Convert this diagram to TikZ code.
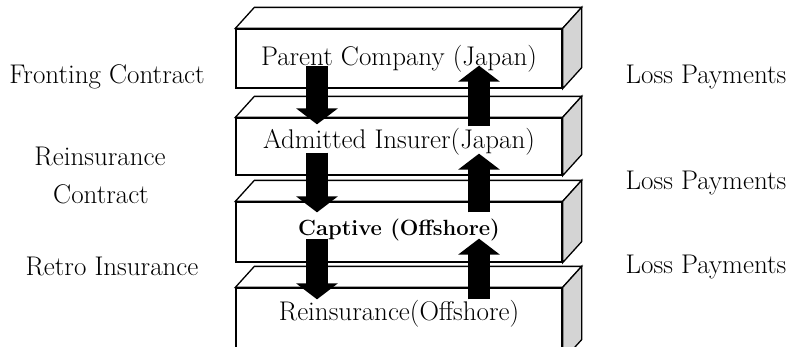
\documentclass[tikz,border=0pt]{standalone}
\usetikzlibrary{calc,arrows.meta}
\begin{document}
\begin{tikzpicture}[x=1pt,y=-1pt,
  front/.style={draw,line width=1.3pt,fill=white,minimum width=326pt,inner sep=0pt},
  topface/.style={draw,line width=1.3pt,fill=white,line join=miter},
  sideface/.style={draw,line width=1.3pt,fill=black!17,line join=miter},
  txt/.style={anchor=base,inner sep=0pt,font=\fontsize{27}{32}\selectfont},
  flow/.style={line width=22pt,-{Triangle[width=41pt 0 0,length=16pt 0 0]}}]
\useasboundingbox (0,0) rectangle (790,346);
\clip (0,0) rectangle (790,346);
% boxes
\newcommand\cube[1]{%
  \draw[topface] (#1.north west) -- ++(19,-21) -- ($(#1.north east)+(19,-21)$) -- (#1.north east) -- cycle;
  \draw[sideface] (#1.north east) -- ++(19,-21) -- ($(#1.south east)+(19,-21)$) -- (#1.south east) -- cycle;}
\node[front,minimum height=59pt] (b1) at (399,58.5) {};
\cube{b1}
\node[front,minimum height=57pt] (b2) at (399,146.5) {};
\cube{b2}
\node[front,minimum height=60pt] (b3) at (399,232) {};
\cube{b3}
\node[front,minimum height=72pt] (b4) at (399,324) {};
\cube{b4}
% box texts
\node[txt] (t1) at (399,65) {Parent Company (Japan)};
\node[txt] (t2) at (399,148) {Admitted Insurer(Japan)};
\node[txt,font=\fontsize{22}{26}\selectfont\bfseries] (t3) at (399,235) {Captive (Offshore)};
\node[txt] (t4) at (399,320) {Reinsurance(Offshore)};
% side labels
\node[txt] (l1) at (107,83) {Fronting Contract};
\node[txt] (l2a) at (100,165) {Reinsurance};
\node[txt] (l2b) at (101,203) {Contract};
\node[txt] (l3) at (112,275) {Retro Insurance};
\node[txt] (r1) at (706,83) {Loss Payments};
\node[txt] (r2) at (706,189) {Loss Payments};
\node[txt] (r3) at (706,273) {Loss Payments};
% arrows
\draw[flow] ($(b1.south)+(-82,-23)$) -- ($(b2.north)+(-82,7)$);
\draw[flow] ($(b2.north)+(80,9)$) -- ($(b1.south)+(80,-23)$);
\draw[flow] ($(b2.south)+(-82,-23)$) -- ($(b3.north)+(-82,11)$);
\draw[flow] ($(b3.north)+(80,11)$) -- ($(b2.south)+(80,-22)$);
\draw[flow] ($(b3.south)+(-82,-24)$) -- ($(b4.north)+(-82,12)$);
\draw[flow] ($(b4.north)+(80,12)$) -- ($(b3.south)+(80,-24)$);
\end{tikzpicture}
\end{document}
